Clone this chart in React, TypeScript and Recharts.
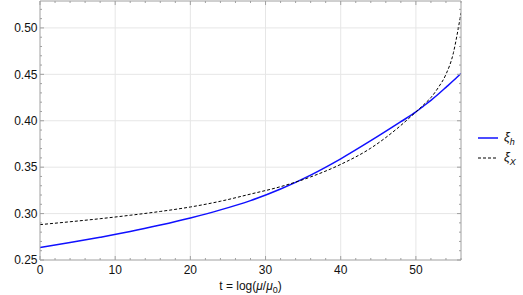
import React from "react";
import { LineChart, Line, XAxis, YAxis, ReferenceLine } from "recharts";

const tValues = [0, 4, 8, 12, 16, 20, 24, 28, 32, 36, 40, 44, 48, 50, 51, 52, 53, 54, 55, 55.5, 56];
const xiH = [0.2634, 0.2688, 0.2745, 0.2806, 0.2876, 0.2953, 0.304, 0.314, 0.3265, 0.3415, 0.359, 0.3785, 0.399, 0.4095, 0.4157, 0.422, 0.4288, 0.436, 0.4433, 0.4471, 0.4509];
const xiX = [0.2881, 0.2912, 0.2945, 0.2982, 0.3023, 0.3071, 0.3133, 0.321, 0.329, 0.3395, 0.353, 0.3705, 0.395, 0.4095, 0.417, 0.425, 0.436, 0.45, 0.4735, 0.4935, 0.5162];

const xMajorTicks = [0, 10, 20, 30, 40, 50];
const xAllTicks = [0, 2, 4, 6, 8, 10, 12, 14, 16, 18, 20, 22, 24, 26, 28, 30, 32, 34, 36, 38, 40, 42, 44, 46, 48, 50, 52, 54, 56];
const yMajorTicks = [0.25, 0.3, 0.35, 0.4, 0.45, 0.5];
const yAllTicks = [0.25, 0.26, 0.27, 0.28, 0.29, 0.3, 0.31, 0.32, 0.33, 0.34, 0.35, 0.36, 0.37, 0.38, 0.39, 0.4, 0.41, 0.42, 0.43, 0.44, 0.45, 0.46, 0.47, 0.48, 0.49, 0.5, 0.51, 0.52];
const yTickLabels = ["0.25", "0.30", "0.35", "0.40", "0.45", "0.50"];

const data = tValues.map((t, i) => ({ t, h: xiH[i], x: xiX[i] }));

const FRAME = "#a0a0a0";
const GRID = "#e6e6e6";
const FONT = "'Liberation Sans', Arial, sans-serif";
const MAJOR_LEN = 4;
const MINOR_LEN = 2;

const isIn = (v: number, arr: number[]) => arr.findIndex((a) => Math.abs(a - v) < 1e-6);

const BottomTick = (props: any) => {
  const { x, y, payload } = props;
  const idx = isIn(payload.value, xMajorTicks);
  const len = idx >= 0 ? MAJOR_LEN : MINOR_LEN;
  return (
    <g>
      <line x1={x} x2={x} y1={y} y2={y - len} stroke={FRAME} strokeWidth={1} />
      {idx >= 0 && (
        <text x={x} y={y + 13.5} textAnchor="middle" fontSize={12} fontFamily={FONT} fill="#111">
          {String(xMajorTicks[idx])}
        </text>
      )}
    </g>
  );
};

const TopTick = (props: any) => {
  const { x, y, payload } = props;
  const idx = isIn(payload.value, xMajorTicks);
  const len = idx >= 0 ? MAJOR_LEN : MINOR_LEN;
  return <line x1={x} x2={x} y1={y} y2={y + len} stroke={FRAME} strokeWidth={1} />;
};

const LeftTick = (props: any) => {
  const { x, y, payload } = props;
  const idx = isIn(payload.value, yMajorTicks);
  const len = idx >= 0 ? MAJOR_LEN : MINOR_LEN;
  return (
    <g>
      <line x1={x} x2={x + len} y1={y} y2={y} stroke={FRAME} strokeWidth={1} />
      {idx >= 0 && (
        <text x={x - 2.5} y={y + 4.3} textAnchor="end" fontSize={12} fontFamily={FONT} fill="#111">
          {yTickLabels[idx]}
        </text>
      )}
    </g>
  );
};

const RightTick = (props: any) => {
  const { x, y, payload } = props;
  const idx = isIn(payload.value, yMajorTicks);
  const len = idx >= 0 ? MAJOR_LEN : MINOR_LEN;
  return <line x1={x} x2={x - len} y1={y} y2={y} stroke={FRAME} strokeWidth={1} />;
};

const XLabel = (props: any) => {
  const vb = props.viewBox || {};
  const cx = (vb.x || 0) + (vb.width || 0) / 2;
  return (
    <text x={cx} y={290} textAnchor="middle" fontSize={12} fontFamily={FONT} fill="#111">
      <tspan>t = log(</tspan>
      <tspan fontStyle="italic">μ</tspan>
      <tspan>/</tspan>
      <tspan fontStyle="italic">μ</tspan>
      <tspan fontSize={9} dy={3}>0</tspan>
      <tspan dy={-3}>)</tspan>
    </text>
  );
};

export default function App() {
  return (
    <div style={{ position: "absolute", left: 0, top: 0, width: 523, height: 295, background: "#fff" }}>
      <LineChart width={523} height={295} data={data} margin={{ top: 0, right: 61, bottom: 0, left: 0 }}>
        {xMajorTicks.slice(1).map((v) => (
          <ReferenceLine key={"gx" + v} x={v} stroke={GRID} strokeWidth={1} />
        ))}
        {yMajorTicks.slice(1).map((v) => (
          <ReferenceLine key={"gy" + v} y={v} stroke={GRID} strokeWidth={1} />
        ))}
        <XAxis
          xAxisId={0}
          dataKey="t"
          type="number"
          domain={[0, 56]}
          allowDataOverflow
          ticks={xAllTicks}
          interval={0}
          height={35}
          tickSize={0}
          tickMargin={0}
          tickLine={false}
          axisLine={{ stroke: FRAME }}
          tick={<BottomTick />}
          label={<XLabel />}
        />
        <XAxis
          xAxisId="top"
          orientation="top"
          dataKey="t"
          type="number"
          domain={[0, 56]}
          allowDataOverflow
          ticks={xAllTicks}
          interval={0}
          height={1}
          tickSize={0}
          tickMargin={0}
          tickLine={false}
          axisLine={{ stroke: FRAME }}
          tick={<TopTick />}
        />
        <YAxis
          yAxisId={0}
          type="number"
          domain={[0.25, 0.529]}
          allowDataOverflow
          ticks={yAllTicks}
          interval={0}
          width={40}
          tickSize={0}
          tickMargin={0}
          tickLine={false}
          axisLine={{ stroke: FRAME }}
          tick={<LeftTick />}
        />
        <YAxis
          yAxisId="right"
          orientation="right"
          type="number"
          domain={[0.25, 0.529]}
          allowDataOverflow
          ticks={yAllTicks}
          interval={0}
          width={1}
          tickSize={0}
          tickMargin={0}
          tickLine={false}
          axisLine={{ stroke: FRAME }}
          tick={<RightTick />}
        />
        <Line
          type="monotone"
          dataKey="h"
          stroke="#1010ff"
          strokeWidth={1.5}
          dot={false}
          activeDot={false}
          isAnimationActive={false}
        />
        <Line
          type="monotone"
          dataKey="x"
          stroke="#000"
          strokeWidth={1}
          strokeDasharray="3 2"
          dot={false}
          activeDot={false}
          isAnimationActive={false}
        />
      </LineChart>
      <div style={{ position: "absolute", left: 476, top: 128, width: 47, fontFamily: FONT, fontSize: 13, color: "#111" }}>
        <div style={{ display: "flex", alignItems: "center", height: 20 }}>
          <svg width={24} height={10}>
            <line x1={2} x2={22} y1={5} y2={5} stroke="#1010ff" strokeWidth={1.5} />
          </svg>
          <span style={{ marginLeft: 4 }}>
            <i>ξ</i>
            <sub style={{ fontSize: 9, fontStyle: "italic" }}>h</sub>
          </span>
        </div>
        <div style={{ display: "flex", alignItems: "center", height: 20 }}>
          <svg width={24} height={10}>
            <line x1={2} x2={22} y1={5} y2={5} stroke="#000" strokeWidth={1} strokeDasharray="3 2" />
          </svg>
          <span style={{ marginLeft: 4 }}>
            <i>ξ</i>
            <sub style={{ fontSize: 9, fontStyle: "italic" }}>X</sub>
          </span>
        </div>
      </div>
    </div>
  );
}
